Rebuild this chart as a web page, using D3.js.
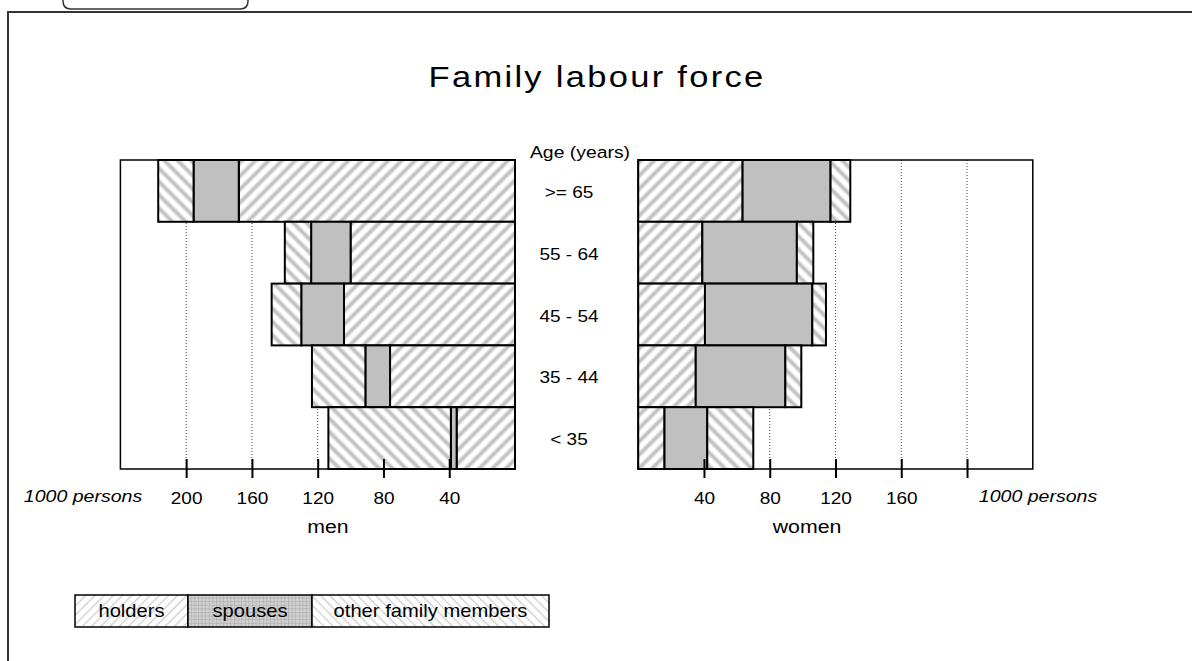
<!DOCTYPE html>
<html><head><meta charset="utf-8">
<script src="https://cdn.jsdelivr.net/npm/d3@7"></script>
<style>
html,body{margin:0;padding:0;background:#fff;}
svg{display:block;font-family:"Liberation Sans",Arial,sans-serif;}
</style></head>
<body>
<script>
// ---- data ----
const ages = [">= 65", "55 - 64", "45 - 54", "35 - 44", "< 35"];
const menHolders   = [168, 100, 104, 76, 35.5];
const menSpouses   = [27.5, 24, 26, 15, 3.5];
const menOthers    = [21.5, 16, 18, 32.5, 74.5];
const womenHolders = [63.5, 39, 40.6, 35, 16];
const womenSpouses = [53.5, 57.5, 65.3, 54.5, 26];
const womenOthers  = [12, 10, 8.3, 9.7, 28];
const menTicks = [200, 160, 120, 80, 40];
const womenTicks = [40, 80, 120, 160, 200];
const womenTickLabels = ["40", "80", "120", "160", ""];
const legendLabels = ["holders", "spouses", "other family members"];

const W = 1192, H = 661;
const svg = d3.select("body").append("svg").attr("width", W).attr("height", H);
const defs = svg.append("defs");

// stripe gradient
const grad = defs.append("linearGradient").attr("id", "sg").attr("x1", "0").attr("x2", "1").attr("y1", "0").attr("y2", "0");
grad.append("stop").attr("offset", "0").attr("stop-color", "#f0f0f0");
grad.append("stop").attr("offset", "0.5").attr("stop-color", "#b6b6b6");
grad.append("stop").attr("offset", "1").attr("stop-color", "#f0f0f0");

function hatch(id, angle, size, stripeW, fillStripe) {
  const p = defs.append("pattern").attr("id", id).attr("patternUnits", "userSpaceOnUse")
    .attr("width", size).attr("height", size).attr("patternTransform", `rotate(${angle})`);
  p.append("rect").attr("width", size).attr("height", size).attr("fill", "#fff");
  p.append("rect").attr("x", 0).attr("width", stripeW).attr("height", size).attr("fill", fillStripe);
}
hatch("hR", 45, 9.4, 5.5, "url(#sg)");
hatch("hL", -45, 9.4, 5.5, "url(#sg)");
hatch("lR", 45, 6.5, 1.3, "#cfcfcf");
hatch("lL", -45, 6.5, 1.3, "#cfcfcf");
const gp = defs.append("pattern").attr("id", "lG").attr("patternUnits", "userSpaceOnUse").attr("width", 3.6).attr("height", 3.6);
gp.append("rect").attr("width", 3.6).attr("height", 3.6).attr("fill", "#d2d2d2");
gp.append("path").attr("d", "M0,0.5H3.6M0.5,0V3.6").attr("stroke", "#b0b0b0").attr("stroke-width", 0.8);

const SX = 1.12;
function label(x, y, str, size, opts = {}) {
  const g = svg.append("g").attr("transform", `translate(${x},${y})`);
  const t = g.append("text").attr("transform", `scale(${opts.sx || SX},1)`)
    .attr("text-anchor", opts.anchor || "middle")
    .attr("font-size", size).attr("fill", "#000").text(str);
  if (opts.italic) t.attr("font-style", "italic");
  if (opts.ls) t.attr("letter-spacing", opts.ls);
  return t;
}

// outer frame and tab
svg.append("path").attr("d", "M8,661V12H1192").attr("fill", "none").attr("stroke", "#333").attr("stroke-width", 2);
svg.append("path").attr("d", "M63,-2V1Q63,9 71,9H240Q248,9 248,1V-2").attr("fill", "none").attr("stroke", "#333").attr("stroke-width", 1.5);

// title
label(597, 87, "Family labour force", 30, { ls: 2, sx: 1.15 });

// scales
const y = d3.scaleBand().domain(ages).range([160, 469]).padding(0);
const xMen = d3.scaleLinear().domain([0, 240]).range([515, 120.4]);
const xWomen = d3.scaleLinear().domain([0, 240]).range([638.2, 1032.8]);

function panel(x, ticks, holders, spouses, others) {
  const g = svg.append("g");
  g.selectAll("line.grid").data(ticks).join("line")
    .attr("x1", d => x(d)).attr("x2", d => x(d))
    .attr("y1", y.range()[0]).attr("y2", y.range()[1])
    .attr("stroke", "#444").attr("stroke-width", 1).attr("stroke-dasharray", "1,2");
  const rows = ages.map((a, i) => ({ a, h: holders[i], s: spouses[i], o: others[i] }));
  const segs = [];
  rows.forEach(r => {
    segs.push({ a: r.a, v0: 0, v1: r.h, fill: "url(#hR)" });
    segs.push({ a: r.a, v0: r.h, v1: r.h + r.s, fill: "#c0c0c0" });
    segs.push({ a: r.a, v0: r.h + r.s, v1: r.h + r.s + r.o, fill: "url(#hL)" });
  });
  g.selectAll("rect.seg").data(segs).join("rect")
    .attr("x", d => Math.min(x(d.v0), x(d.v1)))
    .attr("width", d => Math.abs(x(d.v1) - x(d.v0)))
    .attr("y", d => y(d.a)).attr("height", y.bandwidth())
    .attr("fill", d => d.fill).attr("stroke", "#000").attr("stroke-width", 2);
  const [a0, a1] = x.range();
  g.append("rect").attr("x", Math.min(a0, a1)).attr("y", y.range()[0])
    .attr("width", Math.abs(a1 - a0)).attr("height", y.range()[1] - y.range()[0])
    .attr("fill", "none").attr("stroke", "#000").attr("stroke-width", 1.5);
  return g;
}
panel(xMen, menTicks, menHolders, menSpouses, menOthers);
panel(xWomen, womenTicks, womenHolders, womenSpouses, womenOthers);

function axis(x, ticks, labels) {
  const ax = d3.axisBottom(x).tickValues(ticks).tickSize(19).tickPadding(14)
    .tickFormat((d, i) => labels ? labels[i] : String(d));
  const g = svg.append("g").attr("transform", "translate(0,459)").call(ax);
  g.select(".domain").remove();
  g.selectAll(".tick line").attr("stroke", "#000").attr("stroke-width", 2);
  g.selectAll(".tick text").attr("font-size", 17).attr("font-family", "Liberation Sans, Arial, sans-serif")
    .attr("fill", "#000").attr("transform", `scale(${SX},1)`);
}
axis(xMen, menTicks);
axis(xWomen, womenTicks, womenTickLabels);

// axis captions
label(83, 502, "1000 persons", 17, { italic: true, sx: 1.15 });
label(1038, 502, "1000 persons", 17, { italic: true, sx: 1.15 });
label(328, 533, "men", 19);
label(807, 533, "women", 19);

// age labels
label(580, 158, "Age (years)", 17, { sx: 1.14 });
ages.forEach(a => {
  label(569, y(a) + y.bandwidth() / 2 + 7, a, 17);
});

// legend
const legX = [75, 188, 312, 549];
const legFills = ["url(#lR)", "url(#lG)", "url(#lL)"];
legendLabels.forEach((t, i) => {
  svg.append("rect").attr("x", legX[i]).attr("y", 595).attr("width", legX[i + 1] - legX[i]).attr("height", 32)
    .attr("fill", legFills[i]).attr("stroke", "#000").attr("stroke-width", 1.5);
  label((legX[i] + legX[i + 1]) / 2, 617, t, 18, { sx: 1.12 });
});
</script>
</body></html>
